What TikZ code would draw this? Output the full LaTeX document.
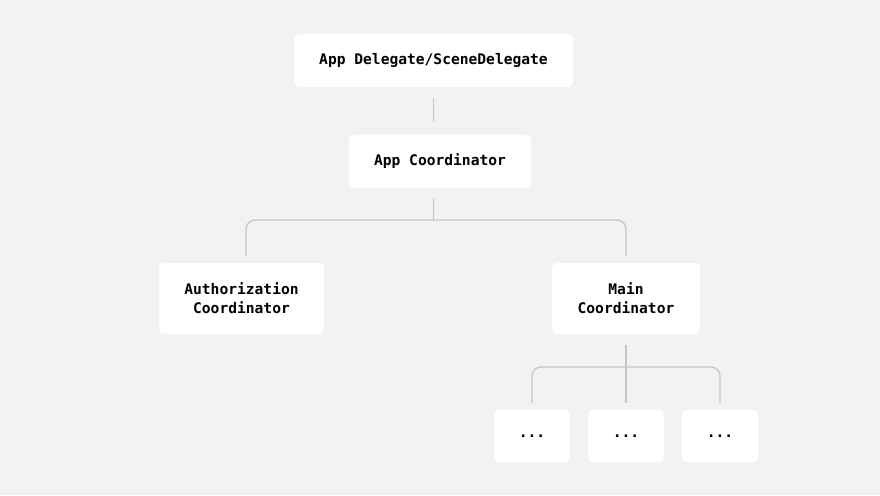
\documentclass[tikz,border=0pt]{standalone}
\usepackage{fontspec}
\setmonofont{DejaVu Sans Mono}
\usetikzlibrary{positioning}
\definecolor{bgcol}{HTML}{F2F2F4}
\definecolor{linecol}{HTML}{C4C4C8}
\begin{document}
\begin{tikzpicture}[x=1pt,y=-1pt,
    box/.style={fill=white,rounded corners=5pt,align=center,inner sep=0pt,
      font=\ttfamily\bfseries\fontsize{14.6}{19}\selectfont},
    link/.style={draw=linecol,line width=1.2pt,rounded corners=9pt}]
    \fill[bgcol] (0,0) rectangle (880,495);
    \useasboundingbox (0,0) rectangle (880,495);
    %
    \node[box,minimum width=279pt,minimum height=53pt](top) at (433.5,60.5){App Delegate/SceneDelegate};
    \node[box,minimum width=182pt,minimum height=53pt](app) at (440,161){App Coordinator};
    \node[box,minimum width=165pt,minimum height=71pt](auth) at (241.5,298.5){Authorization\\Coordinator};
    \node[box,minimum width=148pt,minimum height=71pt](main) at (626,298.5){Main\\Coordinator};
    %
    \node[box,minimum width=76pt,minimum height=53pt](d1) at (532,436){...};
    \node[box,minimum width=76pt,minimum height=53pt](d2) at (626,436){...};
    \node[box,minimum width=76pt,minimum height=53pt](d3) at (720,436){...};
    %
    \coordinate(t1) at (433.5,98);
    \coordinate(t2) at (433.5,122);
    \draw[link] (t1) -- (t2);
    %
    \coordinate(a1) at (433.5,198);
    \coordinate(a2) at (433.5,220);
    \coordinate(al) at (246,256);
    \coordinate(ar) at (626,256);
    \draw[link] (a1) -- (a2);
    \draw[link] (al) |- (a2) -| (ar);
    %
    \coordinate(m1) at (626,345);
    \coordinate(m2) at (626,403);
    \coordinate(mm) at (626,367);
    \coordinate(ml) at (532,403);
    \coordinate(mr) at (720,403);
    \draw[link] (m1) -- (m2);
    \draw[link] (ml) |- (mm) -| (mr);
\end{tikzpicture}
\end{document}
